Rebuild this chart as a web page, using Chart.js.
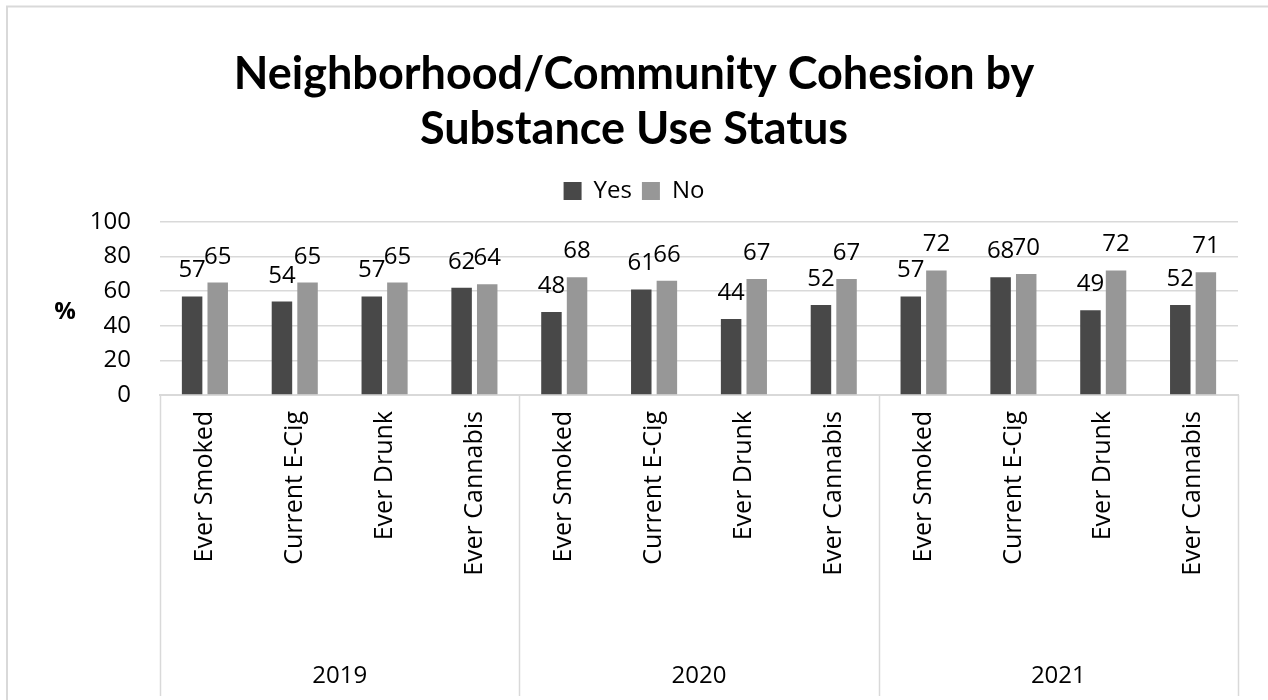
<!DOCTYPE html>
<html><head><meta charset="utf-8">
<script src="https://cdn.jsdelivr.net/npm/chart.js@4.4.0/dist/chart.umd.min.js"></script>
<style>
html,body{margin:0;padding:0;background:#fff;}
#wrap{position:relative;width:1268px;height:700px;}
</style></head><body>
<div id="wrap"><canvas id="c" width="1268" height="700"></canvas></div>
<script>
const categories = ['Ever Smoked','Current E-Cig','Ever Drunk','Ever Cannabis',
                    'Ever Smoked','Current E-Cig','Ever Drunk','Ever Cannabis',
                    'Ever Smoked','Current E-Cig','Ever Drunk','Ever Cannabis'];
const years = ['2019','2020','2021'];
const yesValues = [57,54,57,62,48,61,44,52,57,68,49,52];
const noValues  = [65,65,65,64,68,66,67,67,72,70,72,71];
const yTickValues = [0,20,40,60,80,100];
const seriesNames = ['Yes','No'];
const titleLines = ['Neighborhood/Community Cohesion by','Substance Use Status'];
const yAxisTitle = '%';

const BODY = "'Open Sans', sans-serif";

const legendGap = {
  id: 'legendGap',
  beforeLayout(chart) {
    const lg = chart.legend;
    if (lg && !lg._gapWrapped) {
      const orig = lg.fit.bind(lg);
      lg.fit = function () { orig(); this.height += 9; };
      lg._gapWrapped = true;
    }
  }
};

const decor = {
  id: 'decor',
  afterDraw(chart) {
    const ctx = chart.ctx;
    const ca = chart.chartArea;
    ctx.save();
    // outer frame (left + top)
    ctx.strokeStyle = '#d9d9d9';
    ctx.lineWidth = 2;
    ctx.beginPath();
    ctx.moveTo(7, 700); ctx.lineTo(7, 6.5); ctx.lineTo(1268, 6.5);
    ctx.stroke();
    // group separators
    ctx.lineWidth = 1.5;
    const n = categories.length, per = n / years.length;
    const step = (ca.right - ca.left) / n;
    for (let g = 0; g <= years.length; g++) {
      const x = Math.round(ca.left + g * per * step) + 0.5;
      ctx.beginPath(); ctx.moveTo(x, ca.bottom); ctx.lineTo(x, 696); ctx.stroke();
    }
    // year labels
    ctx.fillStyle = '#000';
    ctx.font = "24px " + BODY;
    ctx.textAlign = 'center';
    ctx.textBaseline = 'middle';
    years.forEach((y, g) => {
      const cx = ca.left + (g + 0.5) * per * step;
      ctx.fillText(y, cx, 676);
    });
    // y axis title
    ctx.font = "bold 24px " + BODY;
    ctx.fillText(yAxisTitle, 65, 312);
    // data labels
    ctx.font = "24px " + BODY;
    ctx.textBaseline = 'alphabetic';
    chart.data.datasets.forEach((ds, di) => {
      const meta = chart.getDatasetMeta(di);
      meta.data.forEach((el, i) => {
        ctx.fillText(String(ds.data[i]), el.x, el.y - 19);
      });
    });
    ctx.restore();
  }
};

new Chart(document.getElementById('c'), {
  type: 'bar',
  data: {
    labels: categories,
    datasets: [
      { label: seriesNames[0], data: yesValues, backgroundColor: '#484848', categoryPercentage: 0.57, barPercentage: 0.8 },
      { label: seriesNames[1], data: noValues,  backgroundColor: '#979797', categoryPercentage: 0.57, barPercentage: 0.8 }
    ]
  },
  options: {
    responsive: false,
    animation: false,
    devicePixelRatio: 1,
    layout: { padding: { left: 0, right: 0, top: 0, bottom: 0 } },
    plugins: {
      title: {
        display: true,
        text: titleLines,
        color: '#000',
        font: { family: 'Lato', weight: 'bold', size: 45, lineHeight: 55 / 45 },
        padding: { top: 47, bottom: 12 }
      },
      legend: {
        display: true,
        position: 'top',
        labels: {
          color: '#000',
          font: { family: 'Open Sans', size: 24 },
          boxWidth: 18, boxHeight: 18, padding: 10
        }
      },
      tooltip: { enabled: false }
    },
    scales: {
      x: {
        grid: { display: false, drawTicks: false },
        border: { display: true, color: '#d9d9d9', width: 2 },
        ticks: {
          color: '#000', font: { family: 'Open Sans', size: 25 },
          maxRotation: 90, minRotation: 90, autoSkip: false, padding: 16
        },
        afterFit(s) { s.height = 305; }
      },
      y: {
        min: 0, max: 100,
        afterBuildTicks(s) { s.ticks = yTickValues.map(v => ({ value: v })); },
        grid: { color: '#d9d9d9', lineWidth: 1.5, drawTicks: false },
        border: { display: false },
        ticks: { color: '#000', font: { family: 'Open Sans', size: 24 }, padding: 29 },
        afterFit(s) { s.width = 160; }
      },
      yRight: {
        type: 'linear', position: 'right', min: 0, max: 100,
        grid: { display: false, drawTicks: false },
        border: { display: false },
        ticks: { display: false },
        afterFit(s) { s.width = 30; }
      }
    }
  },
  plugins: [legendGap, decor]
});
</script>
</body></html>
